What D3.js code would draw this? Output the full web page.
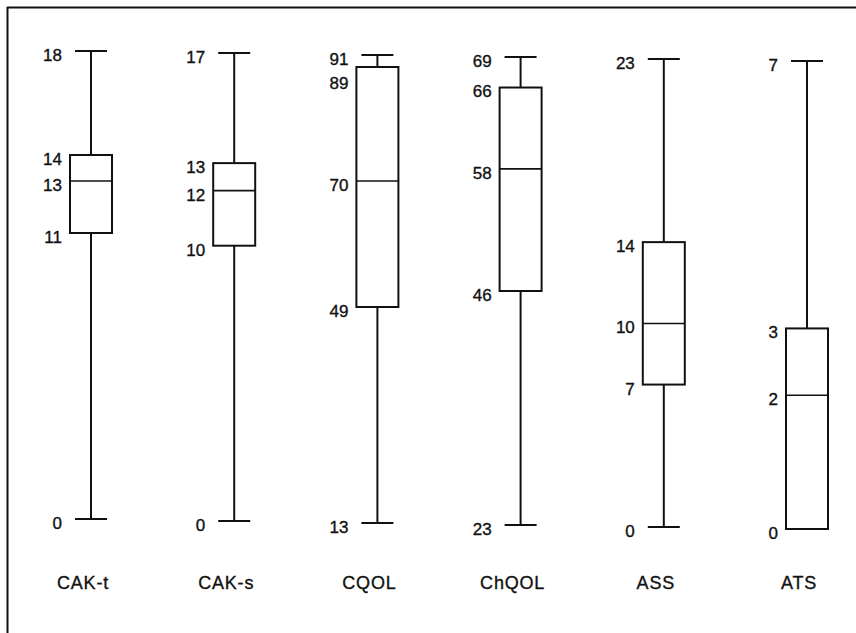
<!DOCTYPE html>
<html>
<head>
<meta charset="utf-8">
<script src="https://cdn.jsdelivr.net/npm/d3@7"></script>
<style>
  body { margin: 0; background: #fff; }
  svg text { font-family: "Liberation Sans", Arial, sans-serif; fill: #111; stroke: #111; stroke-width: 0.35px; }
</style>
</head>
<body>
<svg id="chart" width="856" height="633"></svg>
<script>
const width = 856;
const height = 633;

// five-number summaries
const categories = ['CAK-t', 'CAK-s', 'CQOL', 'ChQOL', 'ASS', 'ATS'];
const mins    = [0, 0, 13, 23, 0, 0];
const q1s     = [11, 10, 49, 46, 7, 0];
const medians = [13, 12, 70, 58, 10, 2];
const q3s     = [14, 13, 89, 66, 14, 3];
const maxs    = [18, 17, 91, 69, 23, 7];

const boxWidth = 42;
const capWidth = 32;

const data = categories.map((c, i) => ({
  name: c, min: mins[i], q1: q1s[i], median: medians[i], q3: q3s[i], max: maxs[i]
}));

const svg = d3.select('#chart');

// frame: top and left rule only
svg.append('line')
  .attr('x1', 7).attr('y1', 7.5).attr('x2', width).attr('y2', 7.5)
  .attr('stroke', '#111').attr('stroke-width', 2);
svg.append('line')
  .attr('x1', 7.5).attr('y1', 7).attr('x2', 7.5).attr('y2', height)
  .attr('stroke', '#111').attr('stroke-width', 2);

const x = d3.scalePoint()
  .domain(categories)
  .range([91, 807]);

const panels = svg.selectAll('g.panel')
  .data(data)
  .enter()
  .append('g')
    .attr('class', 'panel')
    .attr('transform', d => `translate(${x(d.name)},0)`);

panels.each(function(d, i){
  const g = d3.select(this);
  // each box has its own scale; the scan drifts down slightly to the right
  const y = d3.scaleLinear()
    .domain([d.min, d.max])
    .range([519 + 2 * i, 51 + 2 * i]);

  // whiskers
  g.append('line')
    .attr('x1', 0).attr('x2', 0)
    .attr('y1', y(d.max)).attr('y2', y(d.q3))
    .attr('stroke', '#111').attr('stroke-width', 2);
  g.append('line')
    .attr('x1', 0).attr('x2', 0)
    .attr('y1', y(d.q1)).attr('y2', y(d.min))
    .attr('stroke', '#111').attr('stroke-width', 2);

  // caps (none when the whisker has zero length)
  [d.max, d.min].forEach(v => {
    if(v === d.q3 || v === d.q1) return;
    g.append('line')
      .attr('x1', -capWidth/2).attr('x2', capWidth/2)
      .attr('y1', y(v)).attr('y2', y(v))
      .attr('stroke', '#111').attr('stroke-width', 2);
  });

  // box
  g.append('rect')
    .attr('x', -boxWidth/2)
    .attr('y', y(d.q3))
    .attr('width', boxWidth)
    .attr('height', y(d.q1) - y(d.q3))
    .attr('fill', 'none')
    .attr('stroke', '#111')
    .attr('stroke-width', 2);

  // median
  g.append('line')
    .attr('x1', -boxWidth/2).attr('x2', boxWidth/2)
    .attr('y1', y(d.median)).attr('y2', y(d.median))
    .attr('stroke', '#111').attr('stroke-width', 1.6);

  // value labels, nudged down when they would collide
  const vals = [d.max, d.q3, d.median, d.q1, d.min]
    .filter((v, j, arr) => arr.indexOf(v) === j);
  let lastY = -Infinity;
  vals.forEach(v => {
    let ly = y(v) + 4;
    if(ly - lastY < 24) ly = lastY + 24;
    lastY = ly;
    g.append('text')
      .attr('x', -boxWidth/2 - 8)
      .attr('y', ly)
      .attr('dy', '0.35em')
      .attr('text-anchor', 'end')
      .attr('font-size', 17)
      .text(v);
  });

  // category name
  g.append('text')
    .attr('x', -8)
    .attr('y', 583)
    .attr('dy', '0.35em')
    .attr('text-anchor', 'middle')
    .attr('font-size', 18)
    .attr('letter-spacing', 0.8)
    .text(d.name);
});
</script>
</body>
</html>
